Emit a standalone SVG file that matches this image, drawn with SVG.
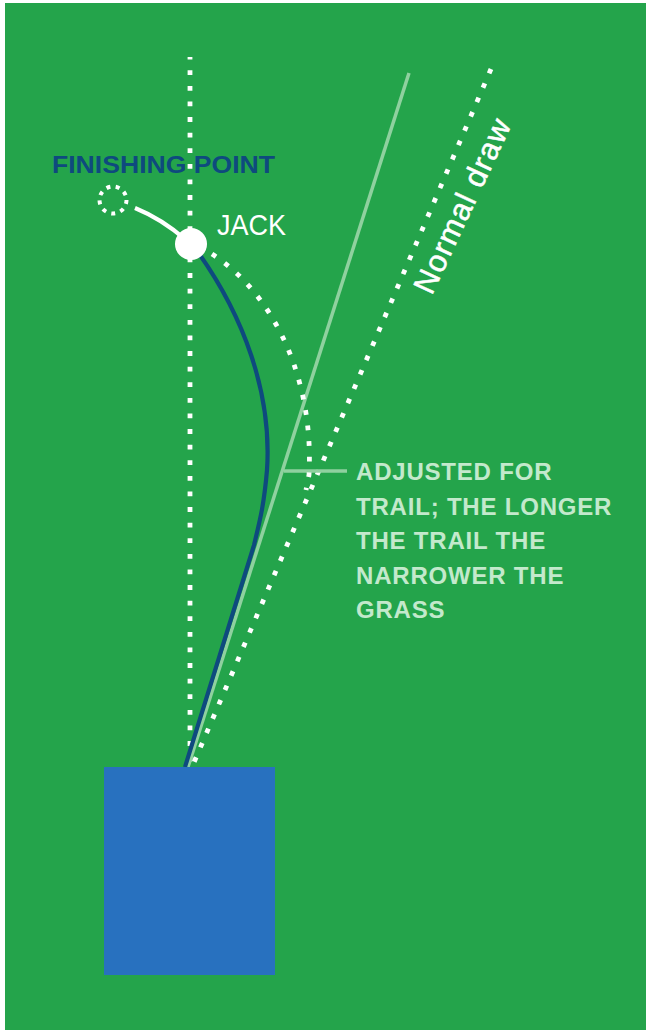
<svg xmlns="http://www.w3.org/2000/svg" width="646" height="1033" viewBox="0 0 646 1033">
  <style>
    .dots{fill:none;stroke:#ffffff;stroke-width:4.8;stroke-dasharray:4.8 10.8}
    .light{fill:none;stroke:#8fd19f;stroke-width:3.5}
    .lbl{font-family:"Liberation Sans",Arial,sans-serif;font-weight:bold}
    .note{fill:#c3e9cc;font-size:24px;letter-spacing:0.8px}
  </style>
  <rect x="0" y="0" width="646" height="1033" fill="#ffffff"/>
  <rect x="5" y="3" width="641" height="1027" fill="#24a44b"/>

  <g id="connectors">
    <path id="centre-line" class="dots" d="M190,57 L190,766" stroke-dashoffset="2.3"/>
    <path id="normal-draw-line" class="dots" d="M491,69 L192,767"/>
    <path id="adjusted-line" class="light" d="M409,73 L188,767"/>
    <path id="leader" class="light" d="M284,471 L347,471" stroke-width="4"/>
    <path id="arc" class="dots" d="M212,254 C275,295 314,380 309,475 L306,490"/>
    <path id="bowl-path" d="M192,244 C245,315 272,395 267,470 C264,505 260,520 254,545 L185,767" fill="none" stroke="#0e4a7e" stroke-width="4.2"/>
    <path id="finish-path" d="M135,208 Q162,219 186,240" fill="none" stroke="#ffffff" stroke-width="4.2"/>
  </g>

  <g id="mat">
    <rect x="104" y="767" width="171" height="208" fill="#2871bf"/>
  </g>

  <g id="jack">
    <circle cx="191" cy="244" r="16" fill="#ffffff"/>
    <text x="217" y="235" font-family="'Liberation Sans',Arial,sans-serif" font-size="30" fill="#ffffff" textLength="69" lengthAdjust="spacingAndGlyphs">JACK</text>
  </g>

  <g id="finishing-point">
    <circle cx="113" cy="200" r="13.5" fill="none" stroke="#ffffff" stroke-width="4" stroke-dasharray="4 5.42"/>
    <text class="lbl" x="52" y="173" font-size="24" fill="#0e4a7e" textLength="223" lengthAdjust="spacingAndGlyphs">FINISHING POINT</text>
  </g>

  <g id="normal-draw">
    <text x="0" y="0" transform="translate(472,210) rotate(-65)" text-anchor="middle" font-family="'Liberation Sans',Arial,sans-serif" font-size="31" fill="#ffffff" stroke="#ffffff" stroke-width="0.5" letter-spacing="1.3">Normal draw</text>
  </g>

  <g id="note">
    <text class="lbl note" x="356" y="480">ADJUSTED FOR</text>
    <text class="lbl note" x="356" y="515">TRAIL; THE LONGER</text>
    <text class="lbl note" x="356" y="549">THE TRAIL THE</text>
    <text class="lbl note" x="356" y="584">NARROWER THE</text>
    <text class="lbl note" x="356" y="618">GRASS</text>
  </g>
</svg>
